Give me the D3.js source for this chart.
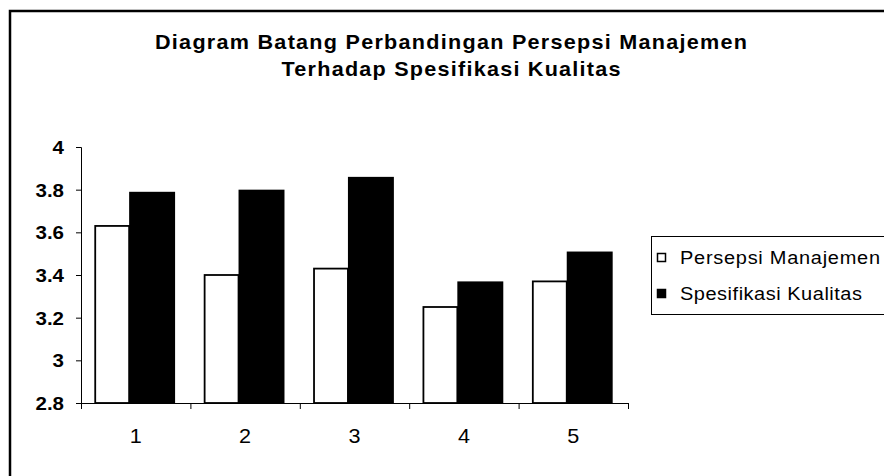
<!DOCTYPE html>
<html>
<head>
<style>
  body { margin: 0; background: #fff; }
  text { font-family: "Liberation Sans", Arial, sans-serif; fill: #000; }
</style>
</head>
<body>
<script src="https://d3js.org/d3.v7.min.js"></script>
<script>
// chart data
let categories = ["1", "2", "3", "4", "5"];
let persepsi = [3.63, 3.40, 3.43, 3.25, 3.37];
let spesifikasi = [3.79, 3.80, 3.86, 3.37, 3.51];
let yTicks = [2.8, 3, 3.2, 3.4, 3.6, 3.8, 4];
let seriesNames = ["Persepsi Manajemen", "Spesifikasi Kualitas"];
let titleLines = ["Diagram Batang Perbandingan Persepsi Manajemen", "Terhadap Spesifikasi Kualitas"];

let width = 884, height = 476;
let sx = 1.08; // the picture's text is a bit wider than plain Arial
let svg = d3.select("body").append("svg")
    .attr("width", width)
    .attr("height", height);

// outer chart frame (runs off the right/bottom edge like the picture)
svg.append("rect")
    .attr("x", 10).attr("y", 11)
    .attr("width", 900).attr("height", 500)
    .attr("fill", "none")
    .attr("stroke", "#000")
    .attr("stroke-width", 2.5);

// title
svg.selectAll(".title")
    .data(titleLines)
    .join("text")
    .attr("class", "title")
    .attr("transform", (d, i) => `translate(451,${49 + i * 27}) scale(${sx},1)`)
    .attr("text-anchor", "middle")
    .attr("font-size", 20)
    .attr("font-weight", "bold")
    .attr("textLength", (d, i) => (i == 0 ? 592 : 339) / sx)
    .attr("lengthAdjust", "spacing")
    .text(d => d);

// scales
let x = d3.scaleBand()
    .domain(categories)
    .range([81, 628]);
let y = d3.scaleLinear()
    .domain([2.8, 4])
    .range([403, 147]);
let bw = x.bandwidth();

// y axis (labels drawn separately so they can be widened)
let yAxis = svg.append("g")
    .attr("transform", "translate(81,0)")
    .call(d3.axisLeft(y).tickValues(yTicks).tickSize(5).tickFormat(""));
yAxis.select(".domain").attr("stroke", "#000");
yAxis.selectAll(".tick line").attr("stroke", "#000");
svg.selectAll(".ylabel")
    .data(yTicks)
    .join("text")
    .attr("class", "ylabel")
    .attr("transform", d => `translate(64,${y(d) + 7}) scale(${sx},1)`)
    .attr("text-anchor", "end")
    .attr("font-size", 19)
    .attr("font-weight", "bold")
    .text(d => d);

// bars - persepsi (white) and spesifikasi (black)
svg.selectAll(".bar1")
    .data(persepsi)
    .join("rect")
    .attr("class", "bar1")
    .attr("x", (d, i) => x(categories[i]) + bw * 0.13)
    .attr("width", bw * 0.31)
    .attr("y", d => y(d))
    .attr("height", d => y(2.8) - y(d))
    .attr("fill", "#fff")
    .attr("stroke", "#000")
    .attr("stroke-width", 1.8);

svg.selectAll(".bar2")
    .data(spesifikasi)
    .join("rect")
    .attr("class", "bar2")
    .attr("x", (d, i) => x(categories[i]) + bw * 0.44)
    .attr("width", bw * 0.42)
    .attr("y", d => y(d))
    .attr("height", d => y(2.8) - y(d))
    .attr("fill", "#000");

// x axis: line, ticks on band edges, labels at band centres
let xg = svg.append("g");
xg.append("line")
    .attr("x1", 81).attr("x2", 628)
    .attr("y1", 403.5).attr("y2", 403.5)
    .attr("stroke", "#000");
xg.selectAll(".xtick")
    .data(categories.concat(["end"]))
    .join("line")
    .attr("class", "xtick")
    .attr("x1", (d, i) => 81.5 + i * bw)
    .attr("x2", (d, i) => 81.5 + i * bw)
    .attr("y1", 403).attr("y2", 409)
    .attr("stroke", "#000");
xg.selectAll(".xlabel")
    .data(categories)
    .join("text")
    .attr("class", "xlabel")
    .attr("transform", d => `translate(${x(d) + bw / 2},443) scale(${sx},1)`)
    .attr("text-anchor", "middle")
    .attr("font-size", 20)
    .text(d => d);

// legend
let legend = svg.append("g");
legend.append("rect")
    .attr("x", 651.5).attr("y", 236.5)
    .attr("width", 260).attr("height", 78)
    .attr("fill", "#fff")
    .attr("stroke", "#000");
let items = legend.selectAll(".item")
    .data(seriesNames)
    .join("g")
    .attr("class", "item")
    .attr("transform", (d, i) => `translate(0,${i * 36})`);
items.append("rect")
    .attr("x", 657.5).attr("y", 253.5)
    .attr("width", 8).attr("height", 8)
    .attr("fill", (d, i) => i == 0 ? "#fff" : "#000")
    .attr("stroke", "#000")
    .attr("stroke-width", 1.5);
items.append("text")
    .attr("transform", `translate(680,264) scale(${sx},1)`)
    .attr("font-size", 18.5)
    .attr("textLength", (d, i) => (i == 0 ? 200 : 182) / sx)
    .attr("lengthAdjust", "spacing")
    .text(d => d);
</script>
</body>
</html>
